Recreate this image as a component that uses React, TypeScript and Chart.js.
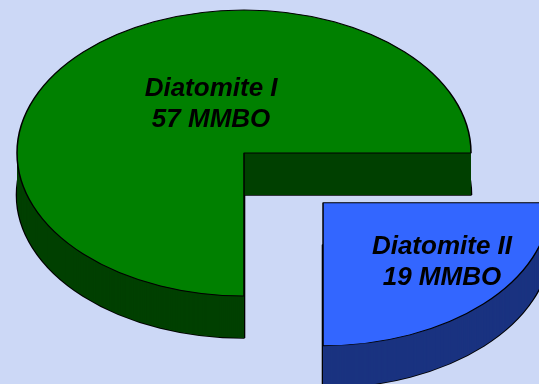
import { useEffect, useRef } from 'react';
import { Chart, ArcElement, PieController } from 'chart.js';

Chart.register(PieController, ArcElement);

// Reserve estimates per reservoir unit
const categories = ['Diatomite I', 'Diatomite II'];
const reserves = [57, 19];
const units = 'MMBO';

const sliceColors = ['#008000', '#3366FF'];
const sideColors = ['#004000', '#1A3380'];
// Chart.js arc offset (pull-out distance) per slice
const explode = [0, 447];

const BG = '#CCD8F6';
const WIDTH = 539;
const HEIGHT = 384;
const RADIUS = 227;
const TILT = 0.63; // vertical squash of the pie disc
const DEPTH = 42; // thickness of the disc in px
// label anchors relative to the pie centre, in units of the radius
const labelAnchors = [
  [-0.145, -0.182],
  [0.872, 0.512],
];
const LABEL_FONT = 'italic bold 26px "Liberation Sans", Arial, sans-serif';
const LINE_HEIGHT = 31;

function applyTilt(ctx: CanvasRenderingContext2D, cx: number, cy: number) {
  ctx.translate(cx, cy);
  ctx.scale(1, TILT);
  ctx.translate(-cx, -cy);
}

const pie3d = {
  id: 'pie3d',
  beforeDatasetsDraw(chart: any) {
    const ctx: CanvasRenderingContext2D = chart.ctx;
    const { left, right, top, bottom } = chart.chartArea;
    const cx = (left + right) / 2;
    const cy = (top + bottom) / 2;
    const arcs = chart.getDatasetMeta(0).data;
    arcs.forEach((arc: any, i: number) => {
      // outline of the underside; the walls drawn next hide its hidden parts
      const edge = Object.create(arc);
      edge.options = { ...arc.options, backgroundColor: 'rgba(0,0,0,0)', borderWidth: 2.6 };
      ctx.save();
      ctx.translate(0, DEPTH);
      applyTilt(ctx, cx, cy);
      arc.draw.call(edge, ctx);
      ctx.restore();
      // side walls: the slice repeated downwards in the darker shade
      const wall = Object.create(arc);
      wall.options = { ...arc.options, backgroundColor: sideColors[i], borderWidth: 0 };
      for (let d = DEPTH; d >= 1; d--) {
        ctx.save();
        ctx.translate(0, d);
        applyTilt(ctx, cx, cy);
        arc.draw.call(wall, ctx);
        ctx.restore();
      }
    });
    // the library draws the top faces with the same tilt
    ctx.save();
    applyTilt(ctx, cx, cy);
  },
  afterDatasetsDraw(chart: any) {
    chart.ctx.restore();
  },
  afterDraw(chart: any) {
    const ctx: CanvasRenderingContext2D = chart.ctx;
    const { left, right, top, bottom } = chart.chartArea;
    const cx = (left + right) / 2;
    const cy = (top + bottom) / 2;
    ctx.save();
    ctx.font = LABEL_FONT;
    ctx.fillStyle = '#000';
    ctx.textAlign = 'center';
    ctx.textBaseline = 'alphabetic';
    categories.forEach((name, i) => {
      const x = cx + labelAnchors[i][0] * RADIUS;
      const y = cy + labelAnchors[i][1] * RADIUS;
      const lines = [name, `${reserves[i]} ${units}`];
      lines.forEach((line, j) => {
        ctx.fillText(line, x, y - LINE_HEIGHT / 2 + j * LINE_HEIGHT);
      });
    });
    ctx.restore();
  },
};

export default function App() {
  const canvasRef = useRef<HTMLCanvasElement | null>(null);

  useEffect(() => {
    document.body.style.margin = '0';
    document.body.style.background = BG;
    const canvas = canvasRef.current;
    if (!canvas) return;
    const chart = new Chart(canvas, {
      type: 'pie',
      data: {
        labels: categories,
        datasets: [
          {
            data: reserves,
            backgroundColor: sliceColors,
            borderColor: '#000',
            borderWidth: 1.5,
            offset: explode,
            radius: RADIUS,
            cutout: '0%',
            rotation: 180,
            clip: false,
          } as any,
        ],
      },
      options: {
        responsive: false,
        animation: false,
        events: [],
        layout: { padding: { left: 0, right: 51, top: 0, bottom: 78 } },
        plugins: {
          legend: { display: false },
          tooltip: { enabled: false },
        },
      } as any,
      plugins: [pie3d],
    });
    return () => chart.destroy();
  }, []);

  return (
    <div style={{ width: WIDTH, height: HEIGHT, background: BG, overflow: 'hidden' }}>
      <canvas ref={canvasRef} width={WIDTH} height={HEIGHT} style={{ display: 'block' }} />
    </div>
  );
}
